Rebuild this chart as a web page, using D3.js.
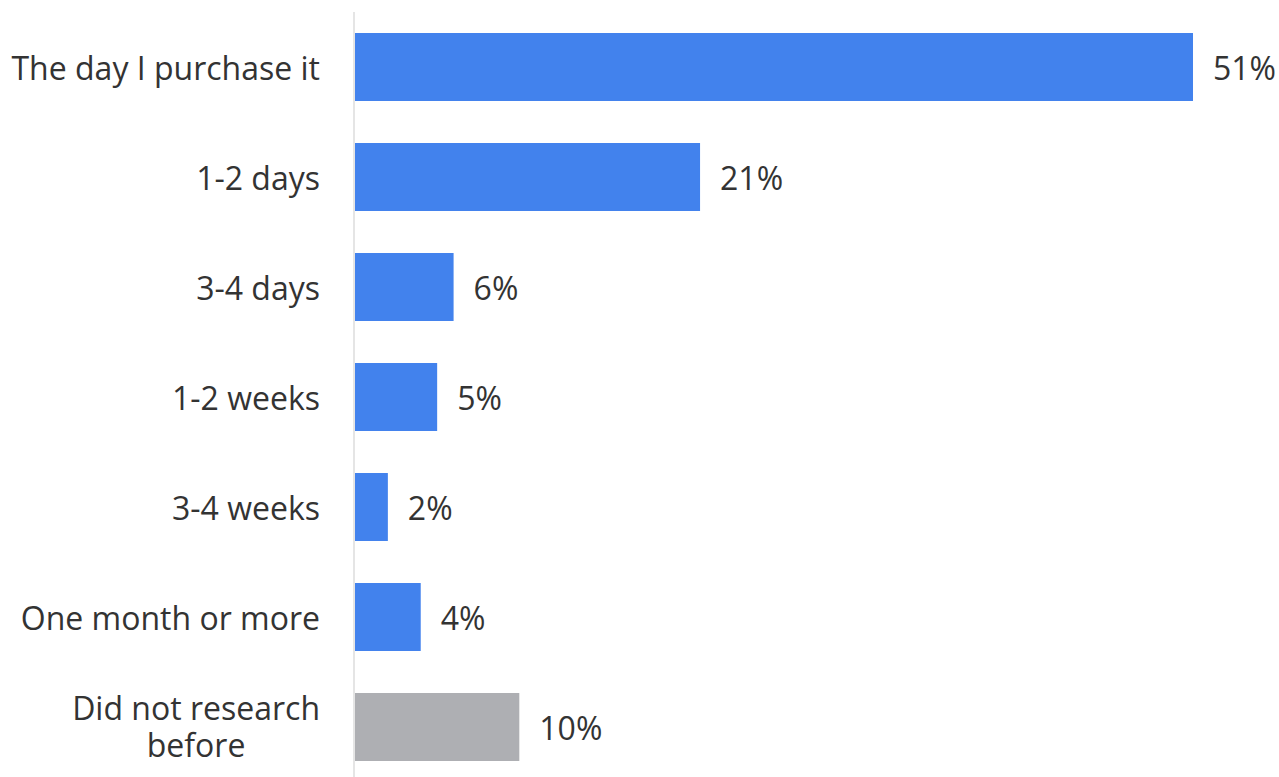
<!DOCTYPE html>
<html>
<head>
<meta charset="utf-8">
<script src="https://cdn.jsdelivr.net/npm/d3@7"></script>
<style>
  html, body { margin: 0; padding: 0; background: #fff; }
  svg { display: block; font-family: "Open Sans", sans-serif; }
</style>
</head>
<body>
<svg id="chart" width="1279" height="777"></svg>
<script>
// Time spent researching before a purchase
const categories = [
  ["The day I purchase it"],
  ["1-2 days"],
  ["3-4 days"],
  ["1-2 weeks"],
  ["3-4 weeks"],
  ["One month or more"],
  ["Did not research", "before"]
];
const values = [51, 21, 6, 5, 2, 4, 10];
const valueLabels = ["51%", "21%", "6%", "5%", "2%", "4%", "10%"];
const barColors = ["#4282ED", "#4282ED", "#4282ED", "#4282ED", "#4282ED", "#4282ED", "#AEAFB3"];

const svg = d3.select("#chart");
const axisX = 355;
const fontSize = 32;

const x = d3.scaleLinear().domain([0, 51]).range([axisX, 1193]);
const y = d3.scaleBand()
  .domain(d3.range(categories.length))
  .range([12, 782])
  .paddingInner(0.382)
  .paddingOuter(0.191);

// bars
svg.append("g").selectAll("rect")
  .data(values)
  .join("rect")
  .attr("x", x(0))
  .attr("y", (d, i) => y(i))
  .attr("width", d => x(d) - x(0))
  .attr("height", y.bandwidth())
  .attr("fill", (d, i) => barColors[i]);

// baseline
svg.append("line")
  .attr("x1", axisX - 1).attr("x2", axisX - 1)
  .attr("y1", 12).attr("y2", 777)
  .attr("stroke", "#dcdcdc")
  .attr("stroke-width", 1.5);

// value labels
svg.append("g").selectAll("text")
  .data(values)
  .join("text")
  .attr("x", d => x(d) + 20)
  .attr("y", (d, i) => y(i) + y.bandwidth() / 2)
  .attr("dy", "0.4em")
  .attr("font-size", fontSize)
  .attr("fill", "#333")
  .text((d, i) => valueLabels[i]);

// category labels, right-aligned block with centred lines
const labelRight = 320;
const lineH = 37;
const catG = svg.append("g");
categories.forEach((lines, i) => {
  const cy = y(i) + y.bandwidth() / 2;
  const t = catG.append("text")
    .attr("font-size", fontSize)
    .attr("fill", "#333")
    .attr("text-anchor", "middle");
  lines.forEach((ln, j) => {
    t.append("tspan")
      .attr("x", 0)
      .attr("y", cy + (j - (lines.length - 1) / 2) * lineH)
      .attr("dy", lines.length > 1 ? "0.36em" : "0.4em")
      .text(ln);
  });
  const w = t.node().getBBox().width;
  t.selectAll("tspan").attr("x", labelRight - w / 2);
});
</script>
</body>
</html>
